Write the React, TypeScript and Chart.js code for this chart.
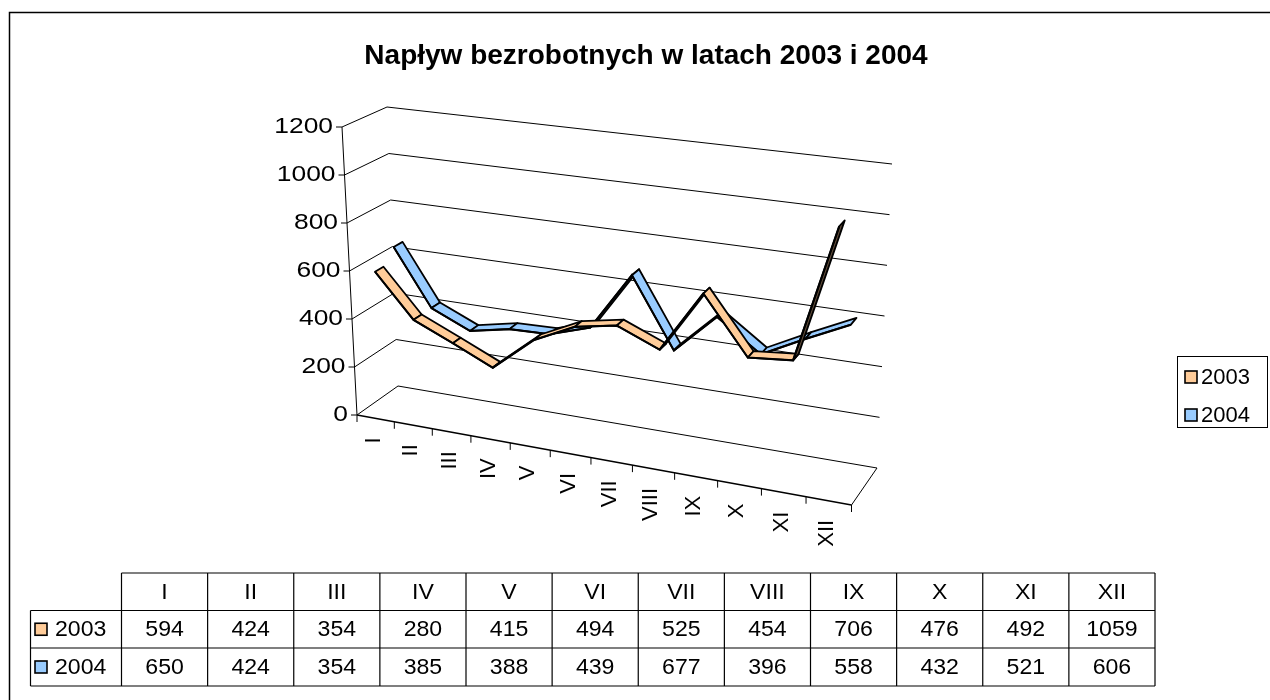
import React, { useEffect, useRef } from "react";
import { Chart, registerables, CategoryScale } from "chart.js";

Chart.register(...registerables);

// ---------------- data ----------------
const MONTHS = ["I", "II", "III", "IV", "V", "VI", "VII", "VIII", "IX", "X", "XI", "XII"];
const VALUES_2003 = [594, 424, 354, 280, 415, 494, 525, 454, 706, 476, 492, 1059];
const VALUES_2004 = [650, 424, 354, 385, 388, 439, 677, 396, 558, 432, 521, 606];
const SERIES_NAMES = ["2003", "2004"];
const Y_TICKS = [0, 200, 400, 600, 800, 1000, 1200];
const TITLE = "Napływ bezrobotnych w latach 2003 i 2004";

// ---------------- styles / geometry ----------------
const FONT = '"Liberation Sans", Arial, sans-serif';
const TOP_COLORS = ["#FFCC99", "#99CCFF"];
const UNDER_COLORS = ["#5e4a38", "#44546a"];
const SERIES_DEPTH = [
  [0.15, 0.35],
  [0.59, 0.8],
];
const PERSP_G = -0.102;
const FRONT = { p00: [357, 415], p01: [342, 127], p10: [851.5, 505], p11: [866, 193] };
const BACK = { p00: [398, 386], p01: [387, 107], p10: [877, 468], p11: [892, 164] };

function persp(d: number) {
  return (d * (1 + PERSP_G)) / (1 + PERSP_G * d);
}

class PerspectiveCategoryScale extends CategoryScale {
  getPixelForDecimal(decimal: number) {
    return super.getPixelForDecimal(persp(decimal));
  }
}
(PerspectiveCategoryScale as any).id = "perspectiveCategory";
(PerspectiveCategoryScale as any).defaults = (CategoryScale as any).defaults;
Chart.register(PerspectiveCategoryScale as any);

type Pt = number[];
const lerp = (a: Pt, b: Pt, t: number): Pt => [a[0] + (b[0] - a[0]) * t, a[1] + (b[1] - a[1]) * t];

function cornersAt(w: number) {
  return {
    p00: lerp(FRONT.p00, BACK.p00, w),
    p01: lerp(FRONT.p01, BACK.p01, w),
    p10: lerp(FRONT.p10, BACK.p10, w),
    p11: lerp(FRONT.p11, BACK.p11, w),
  };
}

function proj(t: number, v: number, w: number): Pt {
  const c = cornersAt(w);
  const a = lerp(c.p00, c.p10, t);
  const b = lerp(c.p01, c.p11, t);
  return lerp(a, b, v);
}

function affineFor(w: number, area: any) {
  const c = cornersAt(w);
  const eu = [
    (c.p10[0] - c.p00[0] + (c.p11[0] - c.p01[0])) / 2,
    (c.p10[1] - c.p00[1] + (c.p11[1] - c.p01[1])) / 2,
  ];
  const ev = [
    (c.p01[0] - c.p00[0] + (c.p11[0] - c.p10[0])) / 2,
    (c.p01[1] - c.p00[1] + (c.p11[1] - c.p10[1])) / 2,
  ];
  const mean = [
    (c.p00[0] + c.p01[0] + c.p10[0] + c.p11[0]) / 4,
    (c.p00[1] + c.p01[1] + c.p10[1] + c.p11[1]) / 4,
  ];
  const c0 = [mean[0] - eu[0] / 2 - ev[0] / 2, mean[1] - eu[1] / 2 - ev[1] / 2];
  const W = area.right - area.left;
  const H = area.bottom - area.top;
  const L = area.left;
  const B = area.bottom;
  const a = eu[0] / W;
  const b = eu[1] / W;
  const cc = -ev[0] / H;
  const d = -ev[1] / H;
  const e = c0[0] - L * a + (B * ev[0]) / H;
  const f = c0[1] - L * b + (B * ev[1]) / H;
  return [a, b, cc, d, e, f];
}

const applyA = (m: number[], p: Pt): Pt => [m[0] * p[0] + m[2] * p[1] + m[4], m[1] * p[0] + m[3] * p[1] + m[5]];

function text(
  ctx: CanvasRenderingContext2D,
  s: string,
  x: number,
  y: number,
  font: string,
  align: CanvasTextAlign,
  baseline: CanvasTextBaseline,
  sx = 1,
  rot = 0
) {
  ctx.save();
  ctx.translate(x, y);
  if (rot) ctx.rotate(rot);
  ctx.scale(sx, 1);
  ctx.font = font;
  ctx.textAlign = align;
  ctx.textBaseline = baseline;
  ctx.fillStyle = "#000";
  ctx.fillText(s, 0, 0);
  ctx.restore();
}

function line(ctx: CanvasRenderingContext2D, a: Pt, b: Pt, w = 1) {
  ctx.beginPath();
  ctx.lineWidth = w;
  ctx.strokeStyle = "#000";
  ctx.moveTo(a[0], a[1]);
  ctx.lineTo(b[0], b[1]);
  ctx.stroke();
}

const pseudo3d = {
  id: "pseudo3d",
  beforeDatasetsDraw(chart: any) {
    const ctx: CanvasRenderingContext2D = chart.ctx;
    const area = chart.chartArea;
    const xs = chart.scales.x;
    const ys = chart.scales.y;
    const tOf = (px: number) => (px - area.left) / (area.right - area.left);
    const vOf = (py: number) => (area.bottom - py) / (area.bottom - area.top);
    ctx.save();

    // outer frame
    ctx.lineWidth = 1.5;
    ctx.strokeStyle = "#000";
    ctx.strokeRect(9.5, 12.5, 1400, 900);

    // title
    text(ctx, TITLE, 646, 64, `bold 28px ${FONT}`, "center", "alphabetic");

    const vTicks = ys.ticks.map((tk: any) => vOf(ys.getPixelForValue(tk.value)));
    const n = chart.data.labels.length;

    // left wall connectors + back wall gridlines
    for (const v of vTicks) {
      line(ctx, proj(0, v, 0), proj(0, v, 1));
      line(ctx, proj(0, v, 1), proj(1, v, 1));
    }
    // floor
    line(ctx, proj(0, 0, 0), proj(1, 0, 0), 1.4);
    line(ctx, proj(1, 0, 0), proj(1, 0, 1));
    // value axis
    line(ctx, proj(0, 0, 0), proj(0, 1, 0));
    for (let i = 0; i < vTicks.length; i++) {
      const p = proj(0, vTicks[i], 0);
      line(ctx, [p[0] - 6, p[1]], p);
      text(ctx, String(ys.ticks[i].value), p[0] - 9, p[1], `22px ${FONT}`, "right", "middle", 1.2);
    }
    // category ticks and labels
    for (let k = 0; k <= n; k++) {
      const t = tOf(xs.getPixelForDecimal(k / n));
      const p = proj(t, 0, 0);
      line(ctx, p, [p[0], p[1] + 7]);
    }
    for (let k = 0; k < n; k++) {
      const t = tOf(xs.getPixelForValue(k));
      const p = proj(t, 0, 0);
      text(ctx, String(chart.data.labels[k]), p[0] - 2, p[1] + 19, `22px ${FONT}`, "right", "middle", 1, -Math.PI / 2);
    }

    // legend
    ctx.lineWidth = 1;
    ctx.strokeStyle = "#000";
    ctx.strokeRect(1177.5, 356.5, 90, 71);
    chart.data.datasets.forEach((ds: any, i: number) => {
      const y = 371 + i * 38;
      ctx.fillStyle = ds.backgroundColor;
      ctx.fillRect(1185, y, 12, 12);
      ctx.lineWidth = 1.6;
      ctx.strokeRect(1185, y, 12, 12);
      text(ctx, ds.label, 1201, y + 6.5, `22px ${FONT}`, "left", "middle");
    });

    // data table
    const colL = 121.5;
    const colW = (1155 - 121.5) / n;
    const rowTops = [573, 610.5, 648, 686];
    line(ctx, [colL, rowTops[0]], [colL + colW * n, rowTops[0]], 1.2);
    for (let r = 1; r < rowTops.length; r++) line(ctx, [30.5, rowTops[r]], [colL + colW * n, rowTops[r]], 1.2);
    line(ctx, [30.5, rowTops[1]], [30.5, rowTops[3]], 1.2);
    for (let c = 0; c <= n; c++) line(ctx, [colL + colW * c, rowTops[0]], [colL + colW * c, rowTops[3]], 1.2);
    for (let c = 0; c < n; c++) {
      const cx = colL + colW * (c + 0.5);
      text(ctx, String(chart.data.labels[c]), cx, (rowTops[0] + rowTops[1]) / 2 + 1, `22px ${FONT}`, "center", "middle", 1.05);
      chart.data.datasets.forEach((ds: any, i: number) => {
        const cy = (rowTops[i + 1] + rowTops[i + 2]) / 2 + 1;
        text(ctx, String(ds.data[c]), cx, cy, `22px ${FONT}`, "center", "middle", 1.05);
      });
    }
    chart.data.datasets.forEach((ds: any, i: number) => {
      const cy = (rowTops[i + 1] + rowTops[i + 2]) / 2;
      ctx.fillStyle = ds.backgroundColor;
      ctx.fillRect(35, cy - 6, 12, 12);
      ctx.lineWidth = 1.6;
      ctx.strokeStyle = "#000";
      ctx.strokeRect(35, cy - 6, 12, 12);
      text(ctx, ds.label, 55, cy + 1, `22px ${FONT}`, "left", "middle", 1.05);
    });

    ctx.restore();
  },
  beforeDatasetDraw(chart: any, args: any) {
    const ctx: CanvasRenderingContext2D = chart.ctx;
    const area = chart.chartArea;
    const idx = args.index;
    const meta = args.meta;
    const [w1, w2] = SERIES_DEPTH[idx];
    const A1 = affineFor(w1, area);
    const A2 = affineFor(w2, area);
    const pts: Pt[] = meta.data.map((el: any) => [el.x, el.y]);
    ctx.save();
    ctx.lineJoin = "round";
    ctx.lineWidth = 1.8;
    ctx.strokeStyle = "#000";
    for (let i = 0; i < pts.length - 1; i++) {
      const q0 = applyA(A1, pts[i]);
      const q1 = applyA(A1, pts[i + 1]);
      const q2 = applyA(A2, pts[i + 1]);
      const q3 = applyA(A2, pts[i]);
      const sx = q1[0] - q0[0];
      const sy = q1[1] - q0[1];
      const dx = q3[0] - q0[0];
      const dy = q3[1] - q0[1];
      const cross = sx * dy - sy * dx;
      ctx.beginPath();
      ctx.moveTo(q0[0], q0[1]);
      ctx.lineTo(q1[0], q1[1]);
      ctx.lineTo(q2[0], q2[1]);
      ctx.lineTo(q3[0], q3[1]);
      ctx.closePath();
      ctx.fillStyle = cross < 0 ? TOP_COLORS[idx] : UNDER_COLORS[idx];
      ctx.fill();
      ctx.stroke();
    }
    ctx.restore();
    ctx.save();
    ctx.transform(A1[0], A1[1], A1[2], A1[3], A1[4], A1[5]);
  },
  afterDatasetDraw(chart: any) {
    chart.ctx.restore();
  },
};

export default function App() {
  const ref = useRef<HTMLCanvasElement>(null);
  useEffect(() => {
    const canvas = ref.current!;
    const chart = new Chart(canvas, {
      type: "line",
      data: {
        labels: MONTHS,
        datasets: [
          {
            label: SERIES_NAMES[0],
            data: VALUES_2003,
            borderColor: "#000",
            backgroundColor: TOP_COLORS[0],
            borderWidth: 2,
            pointRadius: 0,
            fill: false,
            tension: 0,
            clip: false as any,
          },
          {
            label: SERIES_NAMES[1],
            data: VALUES_2004,
            borderColor: "#000",
            backgroundColor: TOP_COLORS[1],
            borderWidth: 2,
            pointRadius: 0,
            fill: false,
            tension: 0,
            clip: false as any,
          },
        ],
      },
      options: {
        responsive: false,
        animation: false,
        devicePixelRatio: 1,
        layout: { padding: { left: 357, right: 1270 - 852, top: 127, bottom: 700 - 415 } },
        plugins: {
          legend: { display: false },
          title: { display: false },
          tooltip: { enabled: false },
        },
        scales: {
          x: { type: "perspectiveCategory" as any, offset: true, display: false },
          y: {
            type: "linear",
            min: Y_TICKS[0],
            max: Y_TICKS[Y_TICKS.length - 1],
            display: false,
            afterBuildTicks: (s: any) => {
              s.ticks = Y_TICKS.map((v) => ({ value: v }));
            },
          },
        },
      },
      plugins: [pseudo3d],
    } as any);
    return () => chart.destroy();
  }, []);
  return (
    <div style={{ position: "absolute", left: 0, top: 0, width: 1270, height: 700, background: "#fff" }}>
      <canvas ref={ref} width={1270} height={700} style={{ display: "block", width: 1270, height: 700 }} />
    </div>
  );
}
